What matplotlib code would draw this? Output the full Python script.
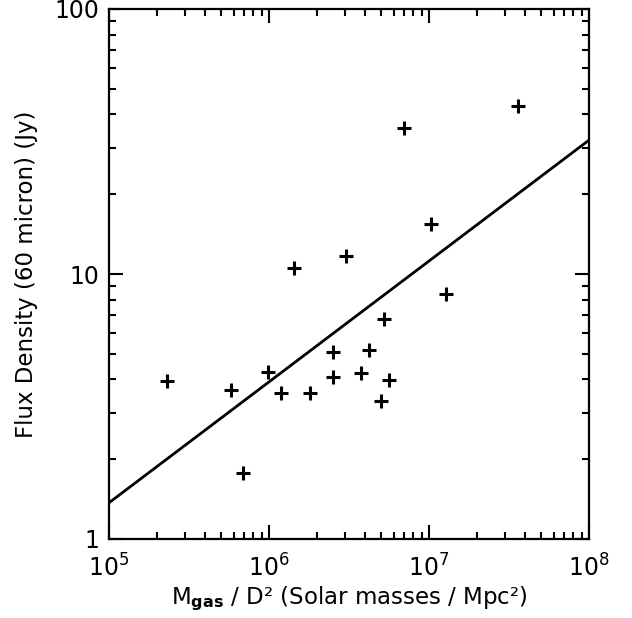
import matplotlib
matplotlib.use("Agg")
import matplotlib.pyplot as plt
from matplotlib.ticker import LogLocator, FixedLocator, FixedFormatter, NullFormatter

plt.rcParams['font.family'] = ['DejaVu Sans']
plt.rcParams['mathtext.fontset'] = 'dejavusans'

# gas mass / D^2 (solar masses / Mpc^2) and 60 micron flux (Jy)
mgas = [2.30e5, 5.79e5, 6.88e5, 9.86e5, 1.19e6, 1.43e6, 1.80e6,
        2.51e6, 2.51e6, 3.03e6, 3.76e6, 4.22e6, 5.01e6, 5.23e6,
        5.62e6, 6.98e6, 1.03e7, 1.28e7, 3.60e7]
flux = [3.95, 3.65, 1.78, 4.27, 3.56, 10.5, 3.56,
        5.08, 4.09, 11.7, 4.23, 5.17, 3.32, 6.77,
        3.98, 35.6, 15.4, 8.40, 43.0]

# fitted line end points
fit_x = [1e5, 1e8]
fit_y = [1.37, 32.0]

fig = plt.figure(figsize=(6.32, 6.18), dpi=100)
ax = fig.add_axes([109/632, 79/618, 480/632, 530/618])

ax.plot(mgas, flux, '+', color='black', markersize=10, markeredgewidth=2.2)
ax.plot(fit_x, fit_y, '-', color='black', linewidth=2)

ax.set_xscale('log')
ax.set_yscale('log')
ax.set_xlim(1e5, 1e8)
ax.set_ylim(1, 100)

ax.xaxis.set_major_locator(FixedLocator([1e5, 1e6, 1e7, 1e8]))
ax.xaxis.set_major_formatter(FixedFormatter(['$10^{5}$', '$10^{6}$', '$10^{7}$', '$10^{8}$']))
ax.xaxis.set_minor_locator(LogLocator(base=10, subs=range(2, 10)))
ax.xaxis.set_minor_formatter(NullFormatter())
ax.yaxis.set_major_locator(FixedLocator([1, 10, 100]))
ax.yaxis.set_major_formatter(FixedFormatter(['1', '10', '100']))
ax.yaxis.set_minor_locator(LogLocator(base=10, subs=range(2, 10)))
ax.yaxis.set_minor_formatter(NullFormatter())

for s in ax.spines.values():
    s.set_linewidth(1.6)
ax.tick_params(which='both', direction='in', top=True, right=True, width=1.5, labelsize=17)
ax.tick_params(which='major', length=10)
ax.tick_params(which='minor', length=5)
ax.tick_params(axis='x', which='major', pad=11)
ax.tick_params(axis='y', which='major', pad=7)

ax.set_xlabel('M$_{\\mathbf{gas}}$ / D² (Solar masses / Mpc²)', fontsize=16.5, labelpad=2)
ax.set_ylabel('Flux Density (60 micron) (Jy)', fontsize=16.5, labelpad=12)

fig.savefig('out.png', dpi=100)
